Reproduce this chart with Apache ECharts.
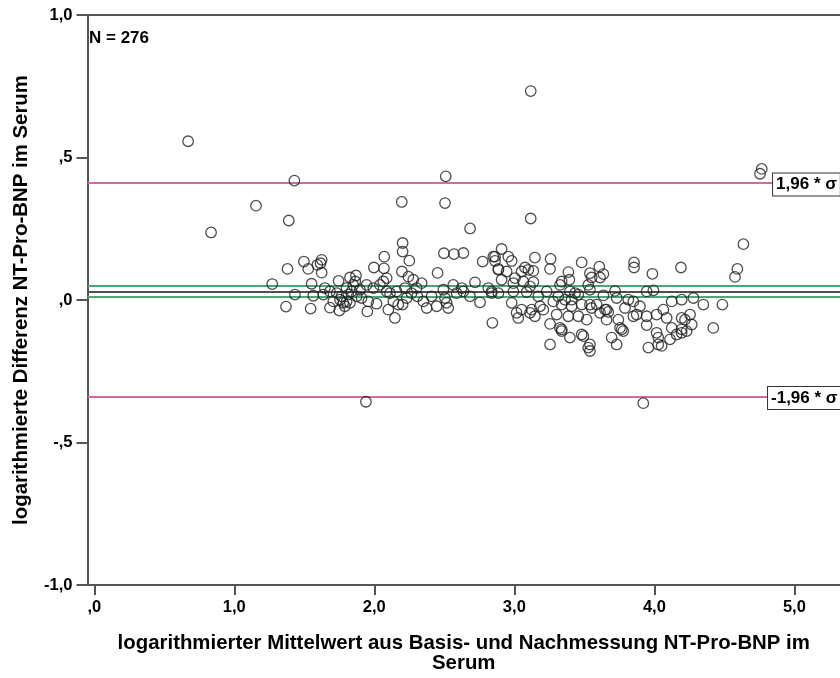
<!DOCTYPE html>
<html>
<head>
<meta charset="utf-8">
<script src="https://cdn.jsdelivr.net/npm/echarts@6/dist/echarts.min.js"></script>
<style>
  html, body { margin: 0; padding: 0; background: #fff; }
  #chart { width: 840px; height: 678px; }
</style>
</head>
<body>
<div id="chart"></div>
<script>
// [mean of log values, log difference]
const points = [
  [0.670, 0.557], [1.429, 0.419], [1.155, 0.331], [1.389, 0.279], [0.834, 0.237],
  [2.196, 0.344], [2.510, 0.434], [2.505, 0.340], [3.117, 0.733], [2.684, 0.251],
  [3.117, 0.286], [4.767, 0.460], [4.755, 0.443], [1.271, 0.056], [1.380, 0.109],
  [1.369, -0.023],
  [2.202, 0.200], [2.202, 0.170], [1.497, 0.135], [1.528, 0.109], [1.593, 0.123],
  [1.624, 0.141], [1.616, 0.129], [1.624, 0.096], [2.071, 0.152], [1.997, 0.114],
  [2.069, 0.111], [2.250, 0.138], [2.197, 0.100], [2.088, 0.077], [2.497, 0.164],
  [2.569, 0.161], [2.636, 0.165], [2.452, 0.095], [2.774, 0.135], [2.850, 0.152],
  [2.862, 0.137], [2.886, 0.109], [1.552, 0.057], [1.647, 0.042], [1.745, 0.067],
  [1.826, 0.079], [1.869, 0.086], [1.864, 0.065], [1.433, 0.019], [1.564, 0.015],
  [1.545, -0.030], [1.683, -0.027], [1.750, -0.037], [1.790, -0.022], [1.802, -0.005],
  [1.838, 0.030], [1.897, 0.036], [1.945, 0.053], [1.957, -0.005], [1.950, -0.040],
  [2.016, -0.013], [2.088, 0.030], [2.112, 0.024], [2.159, 0.030], [2.136, -0.005],
  [2.171, -0.016], [2.202, -0.016], [2.147, -0.063], [2.100, -0.034], [2.064, 0.065],
  [2.243, 0.082], [2.278, 0.071], [2.302, 0.042], [2.338, 0.059], [2.350, -0.005],
  [2.374, -0.028], [2.307, 0.013], [2.493, 0.036], [2.505, 0.007], [2.516, -0.010],
  [2.528, -0.028], [2.445, -0.022], [2.564, 0.053], [2.624, 0.042], [2.636, 0.030],
  [2.719, 0.062], [2.755, -0.008], [2.814, 0.042], [2.838, 0.024], [2.843, -0.080],
  [1.940, -0.357],
  [1.731, 0.024], [1.766, 0.013], [1.802, 0.042], [1.814, 0.019], [1.850, 0.053],
  [1.874, 0.013], [1.909, 0.007], [1.778, -0.010], [1.826, -0.010], [1.755, 0.001],
  [1.707, -0.005], [1.683, 0.030], [1.636, 0.019], [1.993, 0.042], [2.040, 0.053],
  [2.219, 0.042], [2.231, 0.007], [2.266, 0.024], [2.409, 0.013], [2.588, 0.024],
  [2.683, 0.013],
  [2.909, 0.179], [2.862, 0.152], [2.957, 0.152], [2.981, 0.137], [2.886, 0.106],
  [2.945, 0.100], [2.909, 0.071], [3.147, 0.149], [3.076, 0.114], [3.100, 0.106],
  [3.136, 0.102], [3.052, 0.100], [3.005, 0.077], [2.993, 0.059], [3.136, 0.063],
  [3.259, 0.144], [3.255, 0.109], [3.386, 0.098], [3.393, 0.071], [3.338, 0.065],
  [3.326, 0.053], [3.481, 0.132], [3.607, 0.117], [3.540, 0.094], [3.552, 0.079],
  [3.636, 0.091], [3.612, 0.079], [3.528, 0.053], [3.855, 0.132], [3.855, 0.114],
  [3.986, 0.092], [4.190, 0.114], [4.636, 0.196], [4.593, 0.109], [4.576, 0.081],
  [2.838, 0.030], [2.886, 0.024], [2.993, 0.030], [3.088, 0.028], [3.231, 0.030],
  [3.397, 0.030], [3.433, 0.024], [3.457, 0.019], [3.540, 0.036], [3.636, 0.016],
  [3.719, 0.032], [3.731, 0.007], [3.945, 0.030], [3.993, 0.034], [2.981, -0.010],
  [3.016, -0.045], [3.028, -0.063], [3.124, -0.034], [3.147, -0.057], [3.183, -0.022],
  [3.207, -0.034], [3.278, -0.005], [3.302, -0.051], [3.338, -0.016], [3.386, -0.057],
  [3.409, 0.001], [3.409, -0.022], [3.457, -0.057], [3.517, -0.069], [3.540, -0.016],
  [3.552, -0.028], [3.612, -0.045], [3.648, -0.034], [3.671, -0.042], [3.659, -0.069],
  [3.743, -0.069], [3.755, -0.098], [3.778, -0.109], [3.790, -0.028], [3.850, -0.005],
  [3.874, -0.051], [3.897, -0.022], [3.945, -0.057], [3.945, -0.088], [4.016, -0.051],
  [4.064, -0.034], [4.088, -0.063], [4.124, -0.005], [4.195, 0.001], [4.279, 0.007],
  [4.350, -0.016], [4.486, -0.016], [4.195, -0.063], [4.219, -0.069], [4.267, -0.086],
  [4.124, -0.098], [4.159, -0.121], [4.195, -0.103], [4.231, -0.109], [4.016, -0.115],
  [4.028, -0.132], [4.112, -0.138], [4.052, -0.161], [3.957, -0.167], [3.731, -0.156],
  [3.695, -0.132], [3.540, -0.156], [3.540, -0.179], [3.528, -0.167], [3.481, -0.121],
  [3.338, -0.103], [3.397, -0.132], [3.255, -0.156], [3.255, -0.084], [4.421, -0.098],
  [4.255, -0.051], [3.921, -0.362],
  [3.064, 0.065], [3.112, 0.048], [3.171, 0.013], [3.314, 0.013], [3.362, 0.001],
  [3.481, -0.016], [3.588, -0.016], [3.814, 0.001], [3.850, -0.057], [3.659, -0.034],
  [3.112, -0.045], [3.052, -0.034], [3.338, -0.109], [3.326, -0.098], [3.493, -0.127],
  [3.767, -0.103], [4.028, -0.156], [4.195, -0.115]
];

// reference lines (log difference)
const meanDiff = 0.030;
const ciBounds = [0.051, 0.009];
const loaUpper = 0.405;
const loaLower = -0.344;
const loaLabels = ['1,96 * σ', '-1,96 * σ'];
const loaLabelX = [4.848, 4.812];

const xTickValues = [0, 1, 2, 3, 4, 5];
const xTickLabels = [',0', '1,0', '2,0', '3,0', '4,0', '5,0'];
const yTickValues = [-1, -0.5, 0, 0.5, 1];
const yTickLabels = ['-1,0', '-,5', ',0', ',5', '1,0'];

const sampleSize = 276;

const chart = echarts.init(document.getElementById('chart'));

const font = 'Liberation Sans, Arial, sans-serif';
const axisColor = '#555';
const pink = '#d56aa2';
const green = '#4aa874';

const option = {
  animation: false,
  backgroundColor: '#fff',
  textStyle: { fontFamily: font },
  title: {
    text: 'N = ' + sampleSize,
    left: 89,
    top: 30,
    padding: 0,
    textStyle: { fontSize: 17, fontWeight: 'bold', color: '#000', fontFamily: font }
  },
  grid: { left: 87.5, right: 0, top: 15, bottom: 89 },
  xAxis: [
    {
      type: 'value',
      min: -0.0486,
      max: 5.326,
      name: 'logarithmierter Mittelwert aus Basis- und Nachmessung NT-Pro-BNP im\nSerum',
      nameLocation: 'middle',
      nameGap: 48,
      nameTextStyle: { fontSize: 20.4, fontWeight: 'bold', color: '#000', lineHeight: 20, fontFamily: font },
      axisLine: { show: true, onZero: false, lineStyle: { color: axisColor, width: 2 } },
      axisTick: { show: true, length: 10, customValues: xTickValues, lineStyle: { color: axisColor, width: 2 } },
      axisLabel: {
        customValues: xTickValues,
        margin: 14,
        fontSize: 16.5,
        fontWeight: 'bold',
        color: '#000',
        formatter: v => xTickLabels[xTickValues.indexOf(Math.round(v))] || ''
      },
      splitLine: { show: false }
    },
    {
      type: 'value',
      position: 'top',
      min: -0.0486,
      max: 5.326,
      axisLine: { show: true, onZero: false, lineStyle: { color: axisColor, width: 2 } },
      axisTick: { show: false },
      axisLabel: { show: false },
      splitLine: { show: false }
    }
  ],
  yAxis: {
    type: 'value',
    min: -1,
    max: 1,
    interval: 0.5,
    name: 'logarithmierte Differenz NT-Pro-BNP im Serum',
    nameLocation: 'middle',
    nameRotate: 90,
    nameGap: 56,
    nameTextStyle: { fontSize: 20.4, fontWeight: 'bold', color: '#000', fontFamily: font },
    axisLine: { show: true, onZero: false, lineStyle: { color: axisColor, width: 2 } },
    axisTick: { show: true, length: 11, lineStyle: { color: axisColor, width: 2 } },
    axisLabel: {
      margin: 15,
      fontSize: 16.5,
      fontWeight: 'bold',
      color: '#000',
      formatter: v => yTickLabels[yTickValues.indexOf(v)]
    },
    splitLine: { show: false }
  },
  series: [
    {
      type: 'scatter',
      data: points,
      symbol: 'circle',
      symbolSize: 10.5,
      itemStyle: { color: 'rgba(255,255,255,0)', borderColor: '#222', borderWidth: 1.3 },
      z: 3,
      markLine: {
        silent: true,
        symbol: ['none', 'none'],
        label: { show: false },
        z: 2,
        data: [
          { yAxis: loaUpper, lineStyle: { color: pink, width: 2, type: 'solid' } },
          { yAxis: loaLower, lineStyle: { color: pink, width: 2, type: 'solid' } },
          { yAxis: ciBounds[0], lineStyle: { color: green, width: 2, type: 'solid' } },
          { yAxis: ciBounds[1], lineStyle: { color: green, width: 2, type: 'solid' } },
          { yAxis: meanDiff, lineStyle: { color: '#505050', width: 2, type: 'solid' } }
        ]
      },
      markPoint: {
        silent: true,
        symbol: 'rect',
        symbolSize: 0,
        z: 5,
        label: {
          show: true,
          position: 'right',
          distance: 0,
          fontSize: 17,
          fontWeight: 'bold',
          color: '#000',
          fontFamily: font,
          backgroundColor: '#fff',
          borderColor: '#333',
          borderWidth: 1,
          padding: [3, 3, 2, 3],
          formatter: p => p.name
        },
        data: [
          { name: loaLabels[0], coord: [loaLabelX[0], loaUpper] },
          { name: loaLabels[1], coord: [loaLabelX[1], loaLower] }
        ]
      }
    }
  ]
};

chart.setOption(option);
</script>
</body>
</html>
